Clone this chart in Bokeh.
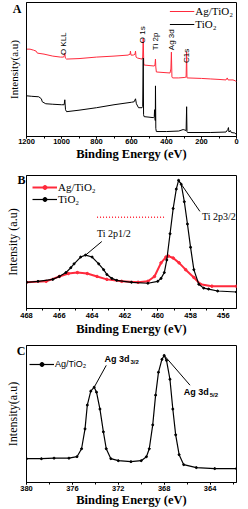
import math
from bokeh.plotting import figure
from bokeh.models import Range1d, SingleIntervalTicker, FixedTicker, Label, Legend, LegendItem
from bokeh.layouts import column
from bokeh.embed import file_html
from bokeh.resources import INLINE

SERIF = "Liberation Serif"
SANS = "Liberation Sans"
RED = "#ff2a3c"

# ---------------- Panel A : survey spectra ----------------
a_be_agtio2 = [1200, 1180, 1160, 1145, 1138, 1100, 1050, 1006, 988, 983, 981, 978, 971, 900, 800, 700,
               620, 608, 606, 603, 590, 580, 577, 574, 565, 540, 536, 533, 530, 528, 500, 470, 466, 463,
               461, 458, 420, 380, 375, 372, 369, 365, 330, 295, 288, 285, 283, 280, 200, 150, 100, 60,
               53, 48, 20, 5, 0]
a_int_agtio2 = [88, 88, 87, 86, 84, 83, 81, 80, 80, 82, 84, 79, 78, 78.5, 80, 81,
                82, 83, 86, 82, 82, 83, 86, 80, 79, 78, 80, 99, 74, 72, 71.5, 71, 72, 78,
                70, 65, 64.5, 64, 68, 85, 60, 59, 59, 59.5, 60, 85, 59, 59, 58.5, 58, 57.5, 57,
                59, 57, 57, 56, 55]
a_be_tio2 = [1200, 1170, 1130, 1115, 1110, 1090, 1050, 1000, 985, 981, 977, 971, 900, 800, 700, 600,
             585, 577, 572, 560, 540, 536, 533, 531, 528, 500, 475, 470, 468, 466, 464, 463, 461, 458,
             400, 330, 305, 295, 288, 285, 283, 280, 150, 60, 50, 46, 43, 35, 30, 10, 0]
a_int_tio2 = [41, 40.5, 40, 38, 35, 33, 32.5, 32, 32, 37, 27, 25, 26.5, 29, 32, 34.5,
              35, 38, 33, 29, 29, 30, 79, 22, 20, 19.5, 19, 20, 27, 18, 16, 51, 8, 5,
              5, 5.5, 7, 6.5, 6, 30, 5, 4, 4, 4.5, 7, 9, 4.5, 6, 4, 3.5, 2]
a_ticks_interval = 200
a_peak_labels = ["O KLL", "O 1s", "Ti 2p", "Ag 3d", "C1s"]
a_peak_label_x = [987, 537, 463, 371, 286]
a_peak_label_y = [82, 94, 87, 87, 74]

# ---------------- Panel B : Ti 2p ----------------
b_be_agtio2 = [468, 466.8, 466.0, 465.45, 464.9, 464.3, 463.7, 463.1, 462.2, 461.2, 460.6, 460.2,
               459.8, 459.5, 459.35, 459.06, 458.7, 458.3, 457.8, 457.4, 456.7, 455.2]
b_int_agtio2 = [27, 28, 33, 36, 37, 36, 33, 30, 28, 27, 28, 33,
                47, 53, 54, 52, 47, 40, 32, 25, 23, 23]
b_be_tio2 = [468, 467.3, 466.4, 466.0, 465.6, 465.3, 465.1, 464.7, 464.4, 464.0, 463.6, 463.3, 463.1,
             462.8, 462.5, 461.6, 460.6, 460.0, 459.8, 459.6, 459.45, 459.25, 459.06, 458.87, 458.73,
             458.57, 458.38, 458.19, 458.0, 457.8, 457.5, 457.2, 456.9, 456.35, 455.2]
b_int_tio2 = [27, 28, 30, 33, 37, 42, 46, 53, 55, 53, 46, 40, 35,
              31, 29, 27, 26, 28, 31, 37, 50, 77, 103, 123, 132,
              128, 110, 87, 63, 40, 25, 21, 20, 18, 17]
b_ticks_interval = 2

# ---------------- Panel C : Ag 3d ----------------
c_be = [380, 378.7, 377.6, 376.3, 375.6, 375.2, 374.9, 374.7, 374.4, 374.1, 373.9, 373.6, 373.3,
        373.05, 372.65, 372.0, 370.9, 370.0, 369.55, 369.3, 369.0, 368.75, 368.5, 368.2, 368.0,
        367.8, 367.5, 367.25, 367.0, 366.7, 366.3, 365.2, 363.6, 361.7]
c_int = [24, 24, 24.5, 24.5, 26, 34, 54, 78, 92, 96, 91, 74, 51,
         34, 24, 22, 21, 22, 26, 34, 58, 88, 111, 124, 128,
         123, 104, 74, 48, 28, 18, 15, 14, 14]
c_ticks_interval = 4


def make_fig(h, xr, yr, bl, br, bt, bb, interval, x_std, x_lab_std, tag, tag_y, tag_std,
             ytitle, ytitle_size, y_lab_std):
    p = figure(width=248, height=h, x_range=Range1d(*xr), y_range=Range1d(*yr),
               output_backend="svg", toolbar_location=None,
               min_border_left=bl, min_border_right=br, min_border_top=bt, min_border_bottom=bb)
    p.grid.visible = False
    p.outline_line_color = "black"
    p.outline_line_width = 1
    p.background_fill_color = "white"
    p.border_fill_color = "white"
    xa = p.xaxis[0]
    xa.ticker = SingleIntervalTicker(interval=interval, num_minor_ticks=2)
    xa.major_tick_in = 0
    xa.major_tick_out = 2
    xa.minor_tick_in = 0
    xa.minor_tick_out = 2
    xa.major_label_standoff = x_std
    xa.major_label_text_font = SANS
    xa.major_label_text_font_size = "7.5px"
    xa.major_label_text_font_style = "bold"
    xa.major_label_text_color = "black"
    xa.axis_line_color = "black"
    xa.axis_label = "Binding Energy (eV)"
    xa.axis_label_text_font = SERIF
    xa.axis_label_text_font_style = "bold"
    xa.axis_label_text_font_size = "12.5px"
    xa.axis_label_text_color = "black"
    xa.axis_label_standoff = x_lab_std
    ya = p.yaxis[0]
    ya.ticker = FixedTicker(ticks=[tag_y])
    ya.major_label_overrides = {tag_y: tag}
    ya.major_label_text_font = SERIF
    ya.major_label_text_font_style = "bold"
    ya.major_label_text_font_size = "12px"
    ya.major_label_text_color = "black"
    ya.major_label_standoff = tag_std
    ya.major_tick_in = 0
    ya.major_tick_out = 0
    ya.minor_tick_in = 0
    ya.minor_tick_out = 0
    ya.major_tick_line_color = None
    ya.minor_tick_line_color = None
    ya.axis_line_color = "black"
    ya.axis_label = ytitle
    ya.axis_label_text_font = SERIF
    ya.axis_label_text_font_style = "normal"
    ya.axis_label_text_font_size = ytitle_size
    ya.axis_label_text_color = "black"
    ya.axis_label_standoff = y_lab_std
    return p


def style_legend(leg, font, size, spacing=0):
    leg.border_line_color = None
    leg.background_fill_alpha = 0
    leg.padding = 0
    leg.spacing = spacing
    leg.glyph_width = 25
    leg.glyph_height = 10
    leg.label_height = 10
    leg.label_standoff = 1
    leg.label_text_font = font
    leg.label_text_font_size = size
    leg.label_text_color = "black"


# ---- Panel A figure
pA = make_fig(163, (1200, 0), (0, 135), 26, 12, 2, 26, a_ticks_interval, 0, 0,
              "A", 131, 5, "Intensity(a.u)", "11px", -10)
rA1 = pA.line(a_be_agtio2, a_int_agtio2, color=RED, line_width=1)
rA2 = pA.line(a_be_tio2, a_int_tio2, color="black", line_width=1)
for t, lx, ly in zip(a_peak_labels, a_peak_label_x, a_peak_label_y):
    pA.add_layout(Label(x=lx, y=ly, text=t, angle=math.pi / 2, text_font=SANS, text_font_size="8px",
                        text_align="left", text_baseline="middle", text_color="black"))
legA = Legend(items=[LegendItem(label="Ag/TiO₂", renderers=[rA1]), LegendItem(label="TiO₂", renderers=[rA2])],
              location="top_right", margin=3)
style_legend(legA, SERIF, "11px", spacing=1)
pA.add_layout(legA)

# ---- Panel B figure
pB = make_fig(175, (468, 455.2), (0, 137), 21, 7, 12, 26, b_ticks_interval, 2, 1,
              "B", 132, 1, "Intensity (a.u)", "12px", -6)
rB1l = pB.line(b_be_agtio2, b_int_agtio2, color=RED, line_width=2)
rB1m = pB.scatter(b_be_agtio2, b_int_agtio2, color=RED, size=2.5)
rB2l = pB.line(b_be_tio2, b_int_tio2, color="black", line_width=1.2)
rB2m = pB.scatter(b_be_tio2, b_int_tio2, color="black", size=2)
# leader lines from the peaks to their labels
i32 = b_int_tio2.index(max(b_int_tio2))
sub = [(x, y) for x, y in zip(b_be_tio2, b_int_tio2) if x > 461]
pk12 = max(sub, key=lambda t: t[1])
pB.segment(x0=[b_be_tio2[i32], pk12[0]], y0=[b_int_tio2[i32], pk12[1]],
           x1=[457.43, 463.41], y1=[100, 69], color="black", line_width=1)
pB.segment(x0=[463.7], y0=[94], x1=[459.55], y1=[94], color=RED, line_width=1.5, line_dash="1 2")
pB.add_layout(Label(x=457.3, y=95, text="Ti 2p3/2", text_font=SERIF, text_font_size="10px",
                    text_align="left", text_baseline="middle", text_color="black"))
pB.add_layout(Label(x=463.7, y=77, text="Ti 2p1/2", text_font=SERIF, text_font_size="10px",
                    text_align="left", text_baseline="middle", text_color="black"))
legB = Legend(items=[LegendItem(label="Ag/TiO₂", renderers=[rB1l, rB1m]),
                     LegendItem(label="TiO₂", renderers=[rB2l, rB2m])],
              location="top_left", margin=6)
style_legend(legB, SERIF, "11px")
pB.add_layout(legB)

# ---- Panel C figure
pC = make_fig(171, (380, 361.7), (0, 138), 19, 2, 7, 26, c_ticks_interval, 1, -1,
              "C", 132, 1, "Intensity(a.u)", "12px", -6)
rCl = pC.line(c_be, c_int, color="black", line_width=1.2)
rCm = pC.scatter(c_be, c_int, color="black", size=2)
s1 = [(x, y) for x, y in zip(c_be, c_int) if x > 371]
s2 = [(x, y) for x, y in zip(c_be, c_int) if x < 371]
p1 = max(s1, key=lambda t: t[1])
p2 = max(s2, key=lambda t: t[1])
pC.segment(x0=[p1[0], p2[0]], y0=[p1[1], p2[1]], x1=[373.05, 365.75], y1=[118, 98],
           color="black", line_width=1)
for lx, ly, subtxt in [(373.2, 124, "3/2"), (366.3, 91, "5/2")]:
    pC.add_layout(Label(x=lx, y=ly, text="Ag 3d", text_font=SANS, text_font_style="bold",
                        text_font_size="9px", text_align="left", text_baseline="middle", text_color="black"))
    pC.add_layout(Label(x=lx, y=ly, x_offset=26, y_offset=-3, text=subtxt, text_font=SANS,
                        text_font_style="bold", text_font_size="6px", text_align="left",
                        text_baseline="middle", text_color="black"))
legC = Legend(items=[LegendItem(label="Ag/TiO₂", renderers=[rCl, rCm])], location=(3, 113))
style_legend(legC, SANS, "9px")
pC.add_layout(legC)

layout = column(pA, pB, pC, spacing=0)
open("out.html", "w").write(file_html(layout, INLINE))
